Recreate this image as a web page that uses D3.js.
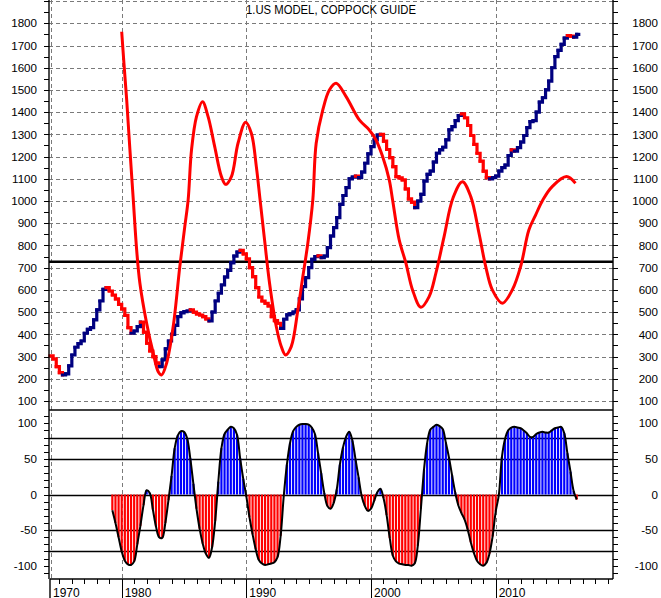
<!DOCTYPE html>
<html><head><meta charset="utf-8">
<script src="https://cdn.jsdelivr.net/npm/d3@7/dist/d3.min.js"></script>
<style>body{margin:0;background:#fff}svg{display:block}text{font-family:"Liberation Sans",Arial,sans-serif;fill:#000}</style>
</head><body><svg id="c" width="661" height="598"></svg>
<script>
// ---------- data ----------
const title = "1.US MODEL, COPPOCK GUIDE";
const modelStart = 1974.25;   // quarterly
const modelValues = [303,290,255,228,217,222,258,307,342,358,370,405,422,430,465,510,550,602,610,595,577,560,535,515,485,430,405,415,435,455,410,360,325,300,272,255,285,335,370,400,440,480,497,502,505,510,500,492,487,480,470,460,500,550,585,622,658,688,722,752,770,778,762,740,700,660,610,568,550,540,528,480,462,450,427,468,488,493,500,510,560,615,655,700,737,750,753,745,752,790,842,880,925,985,1025,1060,1100,1108,1112,1105,1130,1170,1212,1245,1275,1297,1300,1270,1232,1195,1155,1110,1104,1095,1055,1010,995,970,1000,1030,1090,1120,1135,1175,1215,1230,1242,1275,1320,1335,1362,1385,1392,1375,1340,1295,1255,1215,1180,1135,1105,1100,1105,1112,1135,1150,1162,1205,1230,1225,1240,1265,1295,1330,1357,1362,1400,1445,1465,1500,1540,1600,1650,1678,1705,1733,1745,1742,1738,1750];
const guideYears = [1980.0,1980.18,1980.4,1980.66,1980.93,1981.2,1981.46,1982.0,1982.53,1982.93,1983.2,1983.6,1984.13,1984.66,1985.06,1985.33,1985.6,1986.0,1986.48,1986.93,1987.46,1988.0,1988.34,1988.8,1989.33,1989.94,1990.4,1990.8,1991.1,1991.46,1991.86,1992.4,1992.8,1993.14,1993.6,1994.13,1994.53,1994.93,1995.33,1995.6,1996.13,1996.66,1997.2,1998.0,1999.06,1999.86,2000.4,2000.93,2001.46,2001.73,2002.26,2002.8,2003.33,2004.0,2004.66,2005.2,2005.86,2006.58,2007.33,2008.0,2008.66,2009.2,2009.73,2010.53,2011.33,2012.0,2012.66,2013.2,2013.78,2014.53,2015.68,2016.4];
const guideValues = [1762,1620,1455,1230,1005,780,630,450,315,232,217,270,435,705,885,1005,1230,1380,1447,1380,1245,1110,1075,1110,1260,1355,1305,1155,1005,825,630,435,345,307,345,510,660,810,1005,1260,1410,1500,1530,1470,1365,1320,1275,1200,1095,1005,825,720,600,522,570,675,840,1015,1087,1020,855,705,600,540,600,705,870,937,1005,1065,1110,1080];
const coppockStart = 1979.25; // quarterly
const coppockValues = [-22,-40,-60,-80,-93,-98,-99,-94,-70,-44,-15,6,2,-21,-45,-60,-61,-40,-8,26,65,83,89,88,79,51,15,-20,-48,-69,-83,-89,-74,-37,18,65,85,91,95,93,84,51,22,-3,-32,-56,-77,-92,-97,-99,-98,-97,-95,-88,-58,-2,42,72,89,95,98,99,99,98,94,85,58,30,2,-16,-20,-12,7,42,66,81,88,76,50,24,-2,-16,-23,-20,-9,3,8,-5,-29,-61,-86,-94,-97,-98,-99,-99,-100,-97,-72,-20,35,72,91,95,98,96,92,73,52,27,3,-15,-26,-35,-49,-67,-82,-93,-98,-100,-96,-83,-59,-24,-1,53,78,90,94,95,94,93,90,86,81,81,85,87,88,87,87,90,93,94,95,86,58,32,5,-7];
const referenceLevel = 727;
const topTicks = d3.range(100, 1801, 100);
const bottomTicks = [100, 50, 0, -50, -100];
const bottomLines = [80, 50, 0, -50, -80];
const decades = [1970, 1980, 1990, 2000, 2010];

// ---------- layout ----------
const L = 49, R = 613, AX = 579, SEP = 410;
const x = d3.scaleLinear().domain([1980, 2010]).range([121.7, 495.7]);
const yTop = d3.scaleLinear().domain([100, 1800]).range([401, 23.3]);
const yBot = d3.scaleLinear().domain([-100, 100]).range([565.7, 423.3]);
const svg = d3.select("#c");
svg.append("rect").attr("width", 661).attr("height", 598).attr("fill", "#fff");

const grid = svg.append("g").attr("stroke", "#7a7a7a").attr("stroke-width", 1).attr("stroke-dasharray", "4,3").attr("fill", "none");
// horizontal dashed grid (top panel)
d3.range(100, 1901, 100).forEach(v => {
  const yy = Math.round(yTop(v)) + 0.5;
  grid.append("line").attr("x1", L).attr("x2", R).attr("y1", yy).attr("y2", yy);
});
// vertical dashed grid
decades.filter(d => x(d) > L).forEach(d => {
  const xx = Math.round(x(d)) + 0.5;
  grid.append("line").attr("x1", xx).attr("x2", xx).attr("y1", 0).attr("y2", AX);
});
grid.append("line").attr("x1", 51.5).attr("x2", 51.5).attr("y1", 0).attr("y2", AX);

// bottom panel solid lines
bottomLines.forEach(v => {
  const yy = Math.round(yBot(v)) + 0.5;
  svg.append("line").attr("x1", L).attr("x2", R).attr("y1", yy).attr("y2", yy).attr("stroke", "#000").attr("stroke-width", 1.4);
});
svg.append("line").attr("x1", L).attr("x2", R).attr("y1", SEP).attr("y2", SEP).attr("stroke", "#000").attr("stroke-width", 1.4);

// histogram bars
const cop = coppockValues.map((v, i) => ({ t: coppockStart + i * 0.25, v }));
svg.append("g").selectAll("rect").data(cop).join("rect")
  .attr("x", d => x(d.t) - 1.1).attr("width", 2.2)
  .attr("y", d => Math.min(yBot(0), yBot(d.v)))
  .attr("height", d => Math.abs(yBot(d.v) - yBot(0)))
  .attr("fill", d => d.v >= 0 ? "#0000ff" : "#ff0000");
svg.append("path").datum(cop)
  .attr("d", d3.line().x(d => x(d.t)).y(d => yBot(d.v)).curve(d3.curveCatmullRom.alpha(0.5)))
  .attr("fill", "none").attr("stroke", "#000").attr("stroke-width", 2);

// reference level line
svg.append("line").attr("x1", L).attr("x2", R).attr("y1", yTop(referenceLevel)).attr("y2", yTop(referenceLevel))
  .attr("stroke", "#000").attr("stroke-width", 2.5);

// step line
const model = modelValues.map((v, i) => ({ t: modelStart + i * 0.25, v }));
const stepG = svg.append("g").attr("fill", "none").attr("stroke-width", 3.2).attr("stroke-linecap", "square").attr("stroke-linejoin", "miter");
for (let i = 0; i < model.length - 1; i++) {
  const a = model[i], b = model[i + 1];
  stepG.append("path")
    .attr("d", `M${x(a.t)},${yTop(a.v)}H${x(b.t)}V${yTop(b.v)}`)
    .attr("stroke", b.v < a.v ? "#ff0000" : "#000080");
}
const last = model[model.length - 1];
stepG.append("path").attr("d", `M${x(last.t)},${yTop(last.v)}H${x(last.t) + 2}`).attr("stroke", "#000080");

// guide curve
const guide = guideYears.map((t, i) => ({ t, v: guideValues[i] }));
svg.append("path").datum(guide)
  .attr("d", d3.line().x(d => x(d.t)).y(d => yTop(d.v)).curve(d3.curveCatmullRom.alpha(0.5)))
  .attr("fill", "none").attr("stroke", "#ff0000").attr("stroke-width", 3);

// axes lines
const ax = svg.append("g").attr("stroke", "#000").attr("stroke-width", 1.4);
ax.append("line").attr("x1", L).attr("x2", L).attr("y1", 0).attr("y2", AX);
ax.append("line").attr("x1", R).attr("x2", R).attr("y1", 0).attr("y2", AX);
ax.append("line").attr("x1", 50).attr("x2", R).attr("y1", AX).attr("y2", AX);
ax.append("line").attr("x1", 50).attr("x2", 50).attr("y1", AX).attr("y2", 598);

// y ticks top panel (every 50)
const tk = svg.append("g").attr("stroke", "#000").attr("stroke-width", 1);
d3.range(100, 1901, 50).forEach(v => {
  const yy = Math.round(yTop(v)) + 0.5;
  tk.append("line").attr("x1", L - 5).attr("x2", L).attr("y1", yy).attr("y2", yy);
  tk.append("line").attr("x1", R).attr("x2", R + 5).attr("y1", yy).attr("y2", yy);
});
d3.range(-120, 121, 10).forEach(v => {
  const yy = Math.round(yBot(v)) + 0.5;
  if (yy < SEP + 2 || yy > AX - 1) return;
  tk.append("line").attr("x1", L - 5).attr("x2", L).attr("y1", yy).attr("y2", yy);
  tk.append("line").attr("x1", R).attr("x2", R + 5).attr("y1", yy).attr("y2", yy);
});
// x ticks
d3.range(1975, 2020).forEach(yr => {
  const xx = Math.round(x(yr)) + 0.5;
  if (xx > R) return;
  const dec = yr % 10 === 0;
  tk.append("line").attr("x1", xx).attr("x2", xx).attr("y1", AX).attr("y2", dec ? 598 : AX + 5);
});

// labels
const lab = svg.append("g").style("font-size", "11.6px");
topTicks.forEach(v => {
  lab.append("text").attr("x", 37).attr("y", yTop(v)).attr("dy", "0.36em").attr("text-anchor", "end").text(v);
  lab.append("text").attr("x", 658).attr("y", yTop(v)).attr("dy", "0.36em").attr("text-anchor", "end").text(v);
});
bottomTicks.forEach(v => {
  lab.append("text").attr("x", 37).attr("y", yBot(v)).attr("dy", "0.36em").attr("text-anchor", "end").text(v);
  lab.append("text").attr("x", 658).attr("y", yBot(v)).attr("dy", "0.36em").attr("text-anchor", "end").text(v);
});
decades.forEach(d => {
  const xx = Math.max(x(d), 50) + 3;
  svg.append("text").attr("x", xx).attr("y", 596.5).style("font-size", "12px").text(d);
});
svg.append("text").attr("x", 246).attr("y", 14).style("font-size", "12px")
  .attr("textLength", 170).attr("lengthAdjust", "spacingAndGlyphs").text(title);
</script></body></html>
